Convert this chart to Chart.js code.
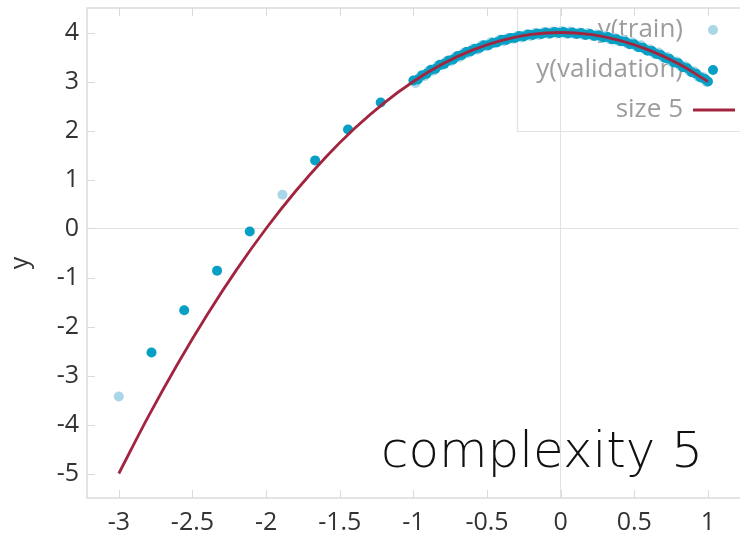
<!DOCTYPE html>
<html>
<head>
<meta charset="utf-8">
<script src="https://cdn.jsdelivr.net/npm/chart.js@4.4.1/dist/chart.umd.min.js"></script>
<style>
  html, body { margin: 0; padding: 0; background: #fff; }
  #wrap { width: 743px; height: 537px; }
</style>
</head>
<body>
<div id="wrap"><canvas id="chart" width="743" height="537"></canvas></div>
<script>
const xTicks = [-3, -2.5, -2, -1.5, -1, -0.5, 0, 0.5, 1];
const yTicks = [-5, -4, -3, -2, -1, 0, 1, 2, 3, 4];

// training samples
const trainX = [-3.0, -1.889,
  -0.985, -0.955, -0.925, -0.895, -0.865, -0.835, -0.805, -0.775, -0.745, -0.715,
  -0.685, -0.655, -0.625, -0.595, -0.565, -0.535, -0.505, -0.475, -0.445, -0.415,
  -0.385, -0.355, -0.325, -0.295, -0.265, -0.235, -0.205, -0.175, -0.145, -0.115,
  -0.085, -0.055, -0.025, 0.005, 0.035, 0.065, 0.095, 0.125, 0.155, 0.185,
  0.215, 0.245, 0.275, 0.305, 0.335, 0.365, 0.395, 0.425, 0.455, 0.485,
  0.515, 0.545, 0.575, 0.605, 0.635, 0.665, 0.695, 0.725, 0.755, 0.785,
  0.815, 0.845, 0.875, 0.905, 0.935, 0.965, 0.99];
const trainY = [-3.43, 0.69,
  2.97, 3.09, 3.11, 3.22, 3.22, 3.32, 3.33, 3.42, 3.42, 3.50,
  3.50, 3.59, 3.58, 3.67, 3.65, 3.74, 3.72, 3.80, 3.78, 3.85,
  3.82, 3.89, 3.87, 3.93, 3.90, 3.96, 3.93, 3.99, 3.95, 4.01,
  3.97, 4.02, 3.98, 4.03, 3.98, 4.02, 3.97, 4.00, 3.95, 3.99,
  3.93, 3.96, 3.90, 3.93, 3.86, 3.89, 3.82, 3.85, 3.77, 3.80,
  3.71, 3.74, 3.65, 3.66, 3.57, 3.59, 3.49, 3.50, 3.40, 3.41,
  3.31, 3.31, 3.21, 3.21, 3.10, 3.09, 2.99];

// validation samples
const validX = [-2.778, -2.556, -2.333, -2.111, -1.667, -1.444, -1.222,
  -1.00, -0.97, -0.94, -0.91, -0.88, -0.85, -0.82, -0.79, -0.76, -0.73,
  -0.70, -0.67, -0.64, -0.61, -0.58, -0.55, -0.52, -0.49, -0.46, -0.43,
  -0.40, -0.37, -0.34, -0.31, -0.28, -0.25, -0.22, -0.19, -0.16, -0.13,
  -0.10, -0.07, -0.04, -0.01, 0.02, 0.05, 0.08, 0.11, 0.14, 0.17,
  0.20, 0.23, 0.26, 0.29, 0.32, 0.35, 0.38, 0.41, 0.44, 0.47,
  0.50, 0.53, 0.56, 0.59, 0.62, 0.65, 0.68, 0.71, 0.74, 0.77,
  0.80, 0.83, 0.86, 0.89, 0.92, 0.95, 0.98, 1.00];
const validY = [-2.53, -1.67, -0.86, -0.06, 1.39, 2.02, 2.57,
  3.02, 3.04, 3.13, 3.16, 3.24, 3.26, 3.34, 3.36, 3.43, 3.45,
  3.52, 3.54, 3.60, 3.62, 3.67, 3.69, 3.74, 3.74, 3.79, 3.80,
  3.85, 3.85, 3.89, 3.89, 3.93, 3.92, 3.96, 3.95, 3.98, 3.97,
  4.00, 3.98, 4.01, 3.99, 4.01, 3.98, 4.00, 3.97, 3.99, 3.95,
  3.97, 3.93, 3.94, 3.90, 3.91, 3.86, 3.86, 3.82, 3.81, 3.76,
  3.76, 3.70, 3.69, 3.63, 3.62, 3.56, 3.54, 3.48, 3.46, 3.39,
  3.37, 3.29, 3.27, 3.19, 3.16, 3.08, 3.05, 3.00];

// fitted model curve, size 5
const fitX = [-3.0, -2.8, -2.6, -2.4, -2.2, -2.0, -1.8, -1.6, -1.4, -1.2, -1.0,
  -0.8, -0.6, -0.4, -0.2, 0.0, 0.2, 0.4, 0.6, 0.8, 1.0];
const fitY = [-5.00, -3.84, -2.76, -1.76, -0.84, 0.00, 0.76, 1.44, 2.04, 2.56, 3.00,
  3.36, 3.64, 3.84, 3.96, 4.00, 3.96, 3.84, 3.64, 3.36, 3.00];

const legendLabels = ["y(train)", "y(validation)", "size 5"];

const TRAIN_COLOR = "#a9d7e7";
const VALID_COLOR = "#07a0c4";
const FIT_COLOR = "#a3243f";
const FRAME_COLOR = "#dadada";

const pts = (xs, ys) => xs.map((x, i) => ({ x: x, y: ys[i] }));

// frame, inner tick marks and legend box, drawn under the data
const framePlugin = {
  id: "frame",
  beforeDatasetsDraw(chart) {
    const { ctx, chartArea: a, scales } = chart;
    ctx.save();
    ctx.strokeStyle = FRAME_COLOR;
    ctx.lineWidth = 1.5;
    ctx.beginPath();
    ctx.moveTo(a.right + 2, a.top);
    ctx.lineTo(a.left, a.top);
    ctx.lineTo(a.left, a.bottom);
    ctx.lineTo(a.right + 2, a.bottom);
    ctx.stroke();

    ctx.lineWidth = 1;
    ctx.beginPath();
    yTicks.forEach(v => {
      const py = Math.round(scales.y.getPixelForValue(v)) + 0.5;
      ctx.moveTo(a.left, py);
      ctx.lineTo(a.left + 8, py);
    });
    xTicks.forEach(v => {
      const px = Math.round(scales.x.getPixelForValue(v)) + 0.5;
      ctx.moveTo(px, a.bottom);
      ctx.lineTo(px, a.bottom - 8);
      ctx.moveTo(px, a.top);
      ctx.lineTo(px, a.top + 8);
    });
    ctx.stroke();

    // y axis title
    ctx.save();
    ctx.translate(21, 263);
    ctx.rotate(-Math.PI / 2);
    ctx.font = '25px "Open Sans"';
    ctx.fillStyle = "#333333";
    ctx.textAlign = "center";
    ctx.textBaseline = "middle";
    ctx.fillText("y", 0, 0);
    ctx.restore();

    // legend
    const lx = 517.5, ly = a.top, lb = 131.5;
    ctx.strokeStyle = "#e2e2e2";
    ctx.lineWidth = 1.2;
    ctx.beginPath();
    ctx.moveTo(a.right + 2, lb);
    ctx.lineTo(lx, lb);
    ctx.lineTo(lx, ly);
    ctx.stroke();

    ctx.font = '26px "Open Sans"';
    ctx.fillStyle = "#9d9d9d";
    ctx.textAlign = "right";
    ctx.textBaseline = "middle";
    const rows = [30, 70, 110];
    legendLabels.forEach((t, i) => ctx.fillText(t, 683, rows[i]));

    ctx.fillStyle = TRAIN_COLOR;
    ctx.beginPath(); ctx.arc(713, rows[0], 5, 0, Math.PI * 2); ctx.fill();
    ctx.fillStyle = VALID_COLOR;
    ctx.beginPath(); ctx.arc(713, rows[1], 5, 0, Math.PI * 2); ctx.fill();
    ctx.strokeStyle = FIT_COLOR;
    ctx.lineWidth = 2.8;
    ctx.beginPath(); ctx.moveTo(693, rows[2]); ctx.lineTo(735, rows[2]); ctx.stroke();
    ctx.restore();
  },
  afterDraw(chart) {
    const { ctx } = chart;
    ctx.save();
    const text = "complexity 5";
    let size = 44;
    ctx.font = '200 ' + size + 'px "DejaVu Sans"';
    const w = ctx.measureText(text).width;
    size = size * 322 / w;
    ctx.font = '200 ' + size.toFixed(1) + 'px "DejaVu Sans"';
    ctx.fillStyle = "#111";
    ctx.textAlign = "left";
    ctx.textBaseline = "alphabetic";
    ctx.fillText(text, 381, 467);
    ctx.restore();
  }
};

const zeroGrid = c => (c.tick && c.tick.value === 0) ? "#e2e2e2" : "rgba(0,0,0,0)";

new Chart(document.getElementById("chart"), {
  type: "scatter",
  data: {
    datasets: [
      {
        label: "size 5",
        data: pts(fitX, fitY),
        showLine: true,
        borderColor: FIT_COLOR,
        borderWidth: 2.8,
        pointRadius: 0,
        tension: 0.35,
        order: 0
      },
      {
        label: "y(validation)",
        data: pts(validX, validY),
        backgroundColor: VALID_COLOR,
        borderWidth: 0,
        pointRadius: 5,
        order: 1
      },
      {
        label: "y(train)",
        data: pts(trainX, trainY),
        backgroundColor: TRAIN_COLOR,
        borderWidth: 0,
        pointRadius: 5,
        order: 2
      }
    ]
  },
  options: {
    responsive: false,
    animation: false,
    devicePixelRatio: 1,
    layout: { padding: { top: 8, right: 0, bottom: 0, left: 0 } },
    plugins: { legend: { display: false }, tooltip: { enabled: false } },
    scales: {
      x: {
        type: "linear",
        min: -3.216,
        max: 1.204,
        afterBuildTicks: s => { s.ticks = xTicks.map(v => ({ value: v })); },
        afterFit: s => { s.height = 39; s.paddingLeft = 0; s.paddingRight = 0; },
        border: { display: false },
        grid: { drawTicks: false, color: zeroGrid, lineWidth: 1 },
        ticks: {
          autoSkip: false, maxRotation: 0, padding: 10,
          color: "#333333",
          font: { family: "Open Sans", size: 25 },
          callback: v => String(v)
        }
      },
      y: {
        type: "linear",
        min: -5.5,
        max: 4.5,
        afterBuildTicks: s => { s.ticks = yTicks.map(v => ({ value: v })); },
        afterFit: s => { s.width = 87; s.paddingTop = 0; s.paddingBottom = 0; },
        border: { display: false },
        grid: { drawTicks: false, color: zeroGrid, lineWidth: 1 },
        ticks: {
          padding: 8,
          color: "#333333",
          font: { family: "Open Sans", size: 25 },
          callback: v => String(v)
        }
      }
    }
  },
  plugins: [framePlugin]
});
</script>
</body>
</html>
